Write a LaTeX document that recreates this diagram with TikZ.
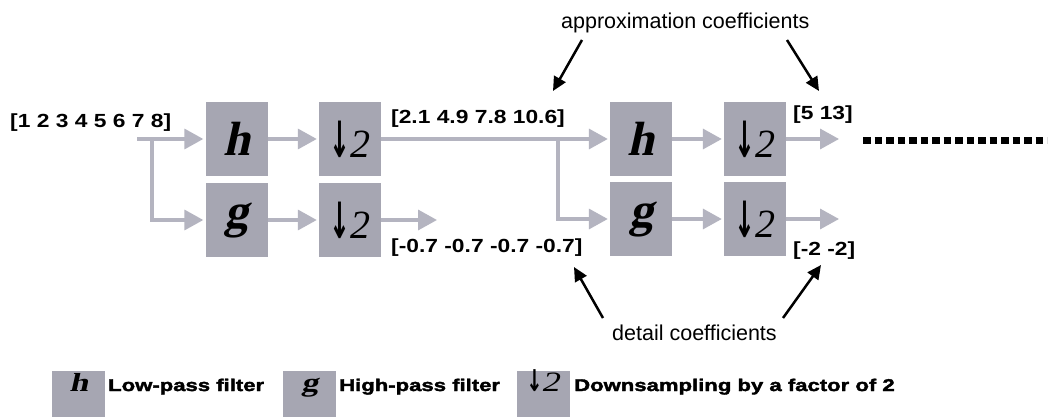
\documentclass[tikz,border=0pt]{standalone}
\usepackage{fontspec}
\setmainfont{Liberation Sans}
\newfontfamily\lblfont{Liberation Sans}[FakeStretch=1.2]
\newfontfamily\keyfont{Liberation Sans}[FakeStretch=1.3,FakeBold=2.2]
\newfontfamily\glyphfont{Liberation Serif}
\newfontfamily\hgfont{Liberation Serif Bold}[FakeSlant=0.22]
\newfontfamily\keyglyph{Liberation Serif}[FakeStretch=1.3]
\newfontfamily\keyhg{Liberation Serif Bold}[FakeStretch=1.3,FakeSlant=0.22]
\newfontfamily\arrowfont{DejaVu Sans Bold}[FakeStretch=0.5]
\newfontfamily\keyarrow{DejaVu Sans Bold}[FakeStretch=0.65]
\usetikzlibrary{arrows.meta}
\definecolor{boxgray}{RGB}{166,166,178}
\definecolor{wiregray}{RGB}{180,180,192}
\newcommand{\hsym}{{\hgfont\fontsize{48}{48}\selectfont h}}
\newcommand{\gsym}{{\hgfont\fontsize{48}{48}\selectfont g}}
\newcommand{\dsym}{{\arrowfont\fontsize{50}{50}\selectfont ↓}{\glyphfont\fontsize{40}{40}\selectfont\itshape 2}}

\begin{document}
\begin{tikzpicture}[x=1pt,y=-1pt,
  filt/.style={fill=boxgray,minimum width=62pt,minimum height=74pt,inner sep=0pt},
  keybox/.style={fill=boxgray,minimum width=53pt,minimum height=46pt,inner sep=0pt,
    text height=20pt,text depth=26pt,anchor=north west},
  wire/.style={draw=wiregray,line width=3.5pt,-{Triangle[length=19pt,width=20pt]},shorten >=2pt},
  note/.style={draw=black,line width=2.5pt,-{Triangle[length=14pt,width=13pt]}},
  vec/.style={font={\lblfont\bfseries\fontsize{19}{19}\selectfont},anchor=base west,inner sep=0pt},
  caption/.style={font={\fontsize{21.5}{21.5}\selectfont},anchor=base west,inner sep=0pt},
  keytext/.style={font={\keyfont\bfseries\fontsize{17}{17}\selectfont},anchor=base west,inner sep=0pt}
]
\fill[white] (0,0) rectangle (1052,417);
\useasboundingbox (0,0) rectangle (1052,417);

% first decomposition stage
\node[filt] (h1) at (236.5,139) {\hsym};
\node[filt] (g1) at (236.5,220) {\gsym};
\node[filt] (d1) at (350,139) {\dsym};
\node[filt] (e1) at (350,220) {\dsym};

% second decomposition stage
\node[filt] (h2) at (641,139) {\hsym};
\node[filt] (g2) at (641,219) {\gsym};
\node[filt] (d2) at (755,139) {\dsym};
\node[filt] (e2) at (755,219) {\dsym};

% signal values
\node[vec] (x0) at (10,128) {[1 2 3 4 5 6 7 8]};
\node[vec] (a1) at (391,124) {[2.1 4.9 7.8 10.6]};
\node[vec] (c1) at (391,252) {[-0.7 -0.7 -0.7 -0.7]};
\node[vec] (a2) at (793,120) {[5 13]};
\node[vec] (c2) at (793,255) {[-2 -2]};

% wiring
\coordinate (in0) at (137,139);
\coordinate (s1) at (152,139);
\coordinate (s2) at (558,139);
\coordinate (o1) at (439,220);
\coordinate (o2) at (841,139);
\coordinate (o3) at (841,219);
\draw[wire] (in0) -- (h1.west);
\draw[wire] (s1) |- (g1.west);
\draw[wire] (h1.east) -- (d1.west);
\draw[wire] (g1.east) -- (e1.west);
\draw[wire] (d1.east) -- (h2.west);
\draw[wire] (s2) |- (g2.west);
\draw[wire] (e1.east) -- (o1);
\draw[wire] (h2.east) -- (d2.west);
\draw[wire] (g2.east) -- (e2.west);
\draw[wire] (d2.east) -- (o2);
\draw[wire] (e2.east) -- (o3);

% further levels continue
\coordinate (m0) at (863,141);
\coordinate (m1) at (1047,141);
\draw[black,line width=7pt,dash pattern=on 7.5pt off 4pt] (m0) -- (m1);

% annotations
\node[caption] (ap) at (561,29) {approximation coefficients};
\node[caption] (dt) at (612,340) {detail coefficients};
\coordinate (ap1) at (582,40);
\coordinate (ap2) at (787,40);
\coordinate (ta1) at (553,91);
\coordinate (ta2) at (819,91);
\coordinate (dt1) at (603,318);
\coordinate (dt2) at (783,318);
\coordinate (td1) at (574,267);
\coordinate (td2) at (821,265);
\draw[note] (ap1) -- (ta1);
\draw[note] (ap2) -- (ta2);
\draw[note] (dt1) -- (td1);
\draw[note] (dt2) -- (td2);

% legend
\node[keybox] (kh) at (52,371) {\keyhg\fontsize{26}{26}\selectfont h};
\node[keytext] (kht) at (108,391) {Low-pass filter};
\node[keybox] (kg) at (283,371) {\keyhg\fontsize{26}{26}\selectfont g};
\node[keytext] (kgt) at (339,391) {High-pass filter};
\node[keybox] (kd) at (517,371) {{\keyarrow\fontsize{30}{30}\selectfont ↓}{\keyglyph\fontsize{28}{28}\selectfont\itshape 2}};
\node[keytext] (kdt) at (574,391) {Downsampling by a factor of 2};
\end{tikzpicture}
\end{document}
